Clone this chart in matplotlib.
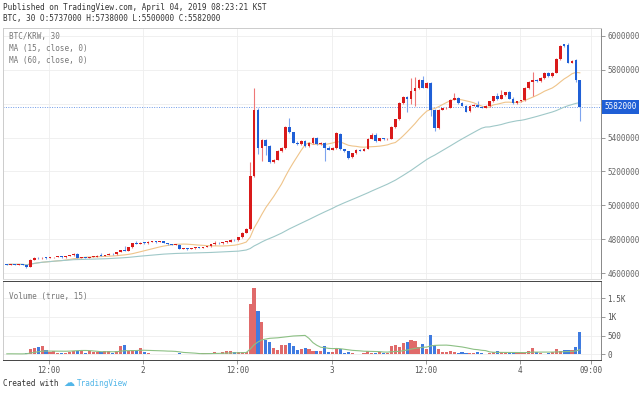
import numpy as np
import pandas as pd
import matplotlib
matplotlib.use('Agg')
import matplotlib.pyplot as plt
from matplotlib.transforms import blended_transform_factory

# BTC/KRW 30 min candles, prices in thousands of KRW
opens = [4652, 4650, 4653, 4650, 4652, 4649, 4638, 4676, 4689, 4686,
         4690, 4687, 4692, 4695, 4697, 4693, 4700, 4705, 4715, 4690,
         4692, 4689, 4694, 4697, 4702, 4700, 4706, 4714, 4710, 4725,
         4735, 4730, 4752, 4775, 4772, 4780, 4776, 4784, 4786, 4783,
         4787, 4778, 4770, 4766, 4768, 4743, 4745, 4741, 4746, 4750,
         4748, 4753, 4758, 4770, 4778, 4775, 4782, 4785, 4796, 4792,
         4810, 4838, 4860, 5173, 5565, 5340, 5385, 5350, 5258, 5270,
         5320, 5340, 5465, 5430, 5370, 5360, 5380, 5350, 5368, 5400,
         5362, 5368, 5338, 5328, 5340, 5420, 5330, 5318, 5284, 5306,
         5326, 5322, 5334, 5394, 5418, 5380, 5398, 5389, 5392, 5462,
         5508, 5605, 5640, 5628, 5673, 5692, 5741, 5695, 5722, 5565,
         5457, 5565, 5572, 5576, 5624, 5634, 5604, 5588, 5556, 5588,
         5594, 5581, 5575, 5585, 5614, 5643, 5628, 5653, 5667, 5630,
         5604, 5614, 5620, 5692, 5731, 5741, 5734, 5751, 5784, 5761,
         5784, 5863, 5950, 5945, 5843, 5859, 5737]
highs = [4655, 4654, 4655, 4653, 4654, 4650, 4680, 4692, 4692, 4692,
         4693, 4694, 4697, 4700, 4699, 4702, 4708, 4718, 4717, 4694,
         4694, 4696, 4699, 4704, 4720, 4709, 4716, 4718, 4727, 4737,
         4760, 4755, 4778, 4790, 4782, 4783, 4787, 4789, 4788, 4790,
         4789, 4780, 4772, 4770, 4770, 4747, 4747, 4748, 4752, 4752,
         4755, 4760, 4772, 4790, 4782, 4784, 4788, 4799, 4800, 4812,
         4842, 4865, 5257, 5692, 5575, 5392, 5390, 5355, 5274, 5325,
         5345, 5470, 5516, 5435, 5378, 5385, 5384, 5372, 5405, 5404,
         5372, 5372, 5350, 5344, 5430, 5424, 5335, 5322, 5310, 5330,
         5330, 5338, 5398, 5428, 5428, 5400, 5400, 5396, 5468, 5512,
         5612, 5645, 5648, 5751, 5755, 5748, 5762, 5728, 5726, 5570,
         5570, 5576, 5580, 5628, 5663, 5638, 5608, 5592, 5592, 5598,
         5614, 5588, 5590, 5618, 5646, 5663, 5683, 5670, 5672, 5638,
         5618, 5624, 5696, 5735, 5790, 5745, 5755, 5790, 5788, 5788,
         5867, 5947, 5955, 5961, 5860, 5862, 5738]
lows = [4648, 4648, 4649, 4648, 4648, 4630, 4636, 4674, 4683, 4684,
        4685, 4686, 4689, 4692, 4690, 4691, 4698, 4703, 4688, 4686,
        4687, 4687, 4692, 4695, 4698, 4698, 4704, 4708, 4708, 4722,
        4728, 4728, 4750, 4770, 4770, 4774, 4774, 4781, 4780, 4781,
        4776, 4768, 4764, 4763, 4740, 4739, 4738, 4739, 4744, 4745,
        4746, 4751, 4756, 4768, 4773, 4772, 4779, 4783, 4789, 4790,
        4808, 4835, 4855, 5165, 5300, 5262, 5295, 5252, 5250, 5265,
        5315, 5335, 5425, 5365, 5355, 5356, 5345, 5346, 5362, 5358,
        5356, 5261, 5326, 5325, 5335, 5325, 5315, 5275, 5280, 5302,
        5318, 5318, 5330, 5390, 5375, 5378, 5386, 5386, 5390, 5458,
        5504, 5600, 5550, 5600, 5585, 5688, 5690, 5690, 5530, 5437,
        5452, 5560, 5568, 5572, 5620, 5600, 5584, 5548, 5552, 5584,
        5578, 5572, 5572, 5582, 5610, 5624, 5625, 5648, 5626, 5598,
        5600, 5610, 5616, 5688, 5643, 5730, 5730, 5746, 5756, 5756,
        5780, 5858, 5936, 5838, 5838, 5726, 5500]
closes = [4650, 4653, 4650, 4652, 4649, 4638, 4676, 4689, 4686, 4690,
          4687, 4692, 4695, 4697, 4693, 4700, 4705, 4715, 4690, 4692,
          4689, 4694, 4697, 4702, 4700, 4706, 4714, 4710, 4725, 4735,
          4730, 4752, 4775, 4772, 4780, 4776, 4784, 4786, 4783, 4787,
          4778, 4770, 4766, 4768, 4743, 4745, 4741, 4746, 4750, 4748,
          4753, 4758, 4770, 4778, 4775, 4782, 4785, 4796, 4792, 4810,
          4838, 4860, 5173, 5565, 5340, 5385, 5350, 5258, 5270, 5320,
          5340, 5465, 5430, 5370, 5360, 5380, 5350, 5368, 5400, 5362,
          5368, 5338, 5328, 5340, 5425, 5330, 5318, 5282, 5306, 5326,
          5322, 5334, 5394, 5418, 5379, 5398, 5389, 5393, 5462, 5508,
          5605, 5638, 5628, 5673, 5692, 5741, 5695, 5722, 5565, 5457,
          5565, 5572, 5576, 5624, 5634, 5604, 5588, 5552, 5588, 5594,
          5581, 5575, 5585, 5614, 5643, 5628, 5653, 5667, 5630, 5604,
          5614, 5620, 5692, 5731, 5741, 5734, 5751, 5784, 5761, 5784,
          5863, 5941, 5940, 5843, 5852, 5737, 5582]
volume = [12, 15, 8, 12, 10, 35, 142, 178, 205, 222,
          116, 71, 89, 45, 45, 40, 60, 100, 100, 80,
          45, 90, 60, 50, 60, 80, 100, 45, 100, 222,
          240, 100, 110, 120, 178, 70, 25, 20, 10, 15,
          10, 20, 10, 15, 40, 10, 10, 15, 12, 20,
          30, 40, 45, 60, 20, 60, 89, 89, 60, 50,
          70, 60, 1330, 1780, 1150, 870, 383, 338, 160, 116,
          250, 250, 294, 231, 116, 133, 169, 133, 80, 80,
          100, 214, 62, 50, 169, 151, 45, 60, 30, 20,
          20, 25, 80, 45, 45, 60, 45, 35, 214, 258,
          196, 311, 329, 374, 347, 196, 285, 151, 525, 240,
          133, 62, 62, 80, 62, 35, 62, 35, 30, 35,
          62, 35, 20, 35, 62, 89, 62, 35, 62, 62,
          25, 35, 40, 80, 178, 62, 35, 20, 45, 62,
          133, 80, 125, 125, 107, 196, 596]

xtick_pos = [10.75, 34.75, 58.75, 82.75, 106.75, 130.75, 148.75]
xtick_lab = ['12:00', '2', '12:00', '3', '12:00', '4', '09:00']
price_ticks = [4600, 4800, 5000, 5200, 5400, 5600, 5800, 6000]
vol_ticks = [0, 500, 1000, 1500]
vol_lab = ['0', '500', '1K', '1.5K']
last_price = 5582

RED, BLUE = '#d91a1a', '#1f5fd6'
RED_W, BLUE_W = '#ee7777', '#7ea4ee'
MONO = 'DejaVu Sans Mono'
FS = 5.5

W, H = 640, 395
fig = plt.figure(figsize=(6.4, 3.95), dpi=100)


def box(x0, y0, x1, y1):
    return [x0 / W, 1 - y1 / H, (x1 - x0) / W, (y1 - y0) / H]


ax = fig.add_axes(box(3, 28, 601, 279))
axv = fig.add_axes(box(3, 281, 601, 360), sharex=ax)

o, h, l, c = (np.array(v, float) for v in (opens, highs, lows, closes))
x = np.arange(len(c))
up = c >= o
col = np.where(up, RED, BLUE)
wcol = np.where(up, RED_W, BLUE_W)

ax.vlines(x, l, h, colors=wcol, linewidth=0.8, zorder=3)
ax.bar(x, np.maximum(np.abs(c - o), 5), bottom=np.minimum(o, c), width=0.7,
       color=col, linewidth=0, zorder=4)

s = pd.Series(closes)
ax.plot(x, s.rolling(15, min_periods=1).mean(), color='#efc48a', lw=0.8, zorder=2)
ax.plot(x, s.rolling(60, min_periods=1).mean(), color='#9fc8c8', lw=0.8, zorder=2)
ax.axhline(last_price, color='#6f9be8', lw=0.7, ls=(0, (1, 1.5)), zorder=1)

ax.set_xlim(-0.97, 151.4)
ax.set_ylim(4564.6, 6047)
ax.yaxis.tick_right()
ax.set_yticks(price_ticks)
ax.set_yticklabels([f'{v * 1000:d}' for v in price_ticks])
ax.set_xticks(xtick_pos)
ax.tick_params(axis='x', bottom=False, labelbottom=False)
ax.tick_params(axis='y', length=3, pad=2, labelsize=FS, labelcolor='#666666',
               color='#888888', width=0.6)
for t in ax.get_yticklabels():
    t.set_fontfamily(MONO)
ax.grid(color='#eeeeee', lw=0.6)
ax.set_axisbelow(True)

tr = blended_transform_factory(ax.transAxes, ax.transData)
ax.text(1.006, last_price, f'{last_price * 1000:d}', transform=tr, ha='left',
        va='center', color='white', fontsize=FS, family=MONO, clip_on=False,
        bbox=dict(boxstyle='square,pad=0.3', fc=BLUE, ec='none'), zorder=10)

# volume
vcol = np.where(up, '#e06a6a', '#3f7be0')
axv.bar(x, volume, width=0.8, color=vcol, linewidth=0, zorder=3)
axv.plot(x, pd.Series(volume).rolling(15, min_periods=1).mean(),
         color='#8cc084', lw=0.8, zorder=4)
axv.set_ylim(-152, 1957)
axv.yaxis.tick_right()
axv.set_yticks(vol_ticks)
axv.set_yticklabels(vol_lab)
axv.set_xticks(xtick_pos)
axv.set_xticklabels(xtick_lab)
axv.tick_params(axis='both', length=3, pad=1.5, labelsize=FS, labelcolor='#555555',
                color='#888888', width=0.6)
for t in axv.get_yticklabels() + axv.get_xticklabels():
    t.set_fontfamily(MONO)
axv.grid(color='#eeeeee', lw=0.6)
axv.set_axisbelow(True)

for a in (ax, axv):
    a.spines['left'].set_color('#cccccc')
    a.spines['right'].set_color('#888888')
    for sp in a.spines.values():
        sp.set_linewidth(0.7)
ax.spines['top'].set_color('#cccccc')
ax.spines['bottom'].set_color('#dddddd')
axv.spines['top'].set_color('#444444')
axv.spines['bottom'].set_color('#444444')


def ftext(px, py, s, **kw):
    kw.setdefault('fontsize', FS)
    kw.setdefault('family', MONO)
    fig.text(px / W, 1 - py / H, s, va='center', ha='left', **kw)


ftext(3, 7, 'Published on TradingView.com, April 04, 2019 08:23:21 KST', color='#333333')
ftext(3, 18, 'BTC, 30 O:5737000 H:5738000 L:5500000 C:5582000', color='#333333')
ftext(9, 37, 'BTC/KRW, 30', color='#777777')
ftext(9, 49, 'MA (15, close, 0)', color='#777777')
ftext(9, 61, 'MA (60, close, 0)', color='#777777')
ftext(9, 297, 'Volume (true, 15)', color='#777777')
ftext(3, 384, 'Created with', color='#333333')
ftext(63, 383, '\u2601', color='#52b6e8', fontsize=8, family='DejaVu Sans')
ftext(77, 384, 'TradingView', color='#52b6e8')

fig.savefig('out.png', dpi=100)
